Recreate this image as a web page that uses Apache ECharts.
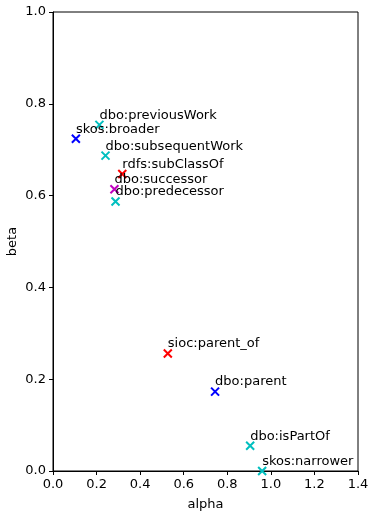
<!DOCTYPE html>
<html><head><meta charset="utf-8">
<script src="https://cdn.jsdelivr.net/npm/echarts@6/dist/echarts.min.js"></script>
<style>html,body{margin:0;padding:0;background:#fff}#c{width:370px;height:512px}</style>
</head><body><div id="c"></div>
<script>
const names = ['skos:broader','dbo:previousWork','dbo:subsequentWork','rdfs:subClassOf','dbo:successor','dbo:predecessor','sioc:parent_of','dbo:parent','dbo:isPartOf','skos:narrower'];
const alphaVals = [0.105,0.213,0.241,0.318,0.282,0.287,0.527,0.744,0.905,0.960];
const betaVals = [0.724,0.754,0.687,0.647,0.614,0.587,0.256,0.173,0.055,0.0];
const colors = ['#0000ff','#00bfbf','#00bfbf','#ff0000','#bf00bf','#00bfbf','#ff0000','#0000ff','#00bfbf','#00bfbf'];
const xTicks = [0,0.2,0.4,0.6,0.8,1.0,1.2,1.4];
const yTicks = [0,0.2,0.4,0.6,0.8,1.0];

const font = 'DejaVu Sans';
const fs = 13;
const chart = echarts.init(document.getElementById('c'));
const data = names.map((n,i)=>({
  name:n, value:[alphaVals[i],betaVals[i]],
  itemStyle:{color:'rgba(0,0,0,0)',borderColor:colors[i],borderWidth:2,opacity:1}
}));
chart.setOption({
  animation:false,
  grid:{left:53,right:12,top:12,bottom:41,show:true,borderColor:'#000',borderWidth:1,outerBoundsMode:'none',containLabel:false},
  xAxis:{type:'value',min:0,max:1.4,interval:0.2,name:'alpha',nameLocation:'middle',nameGap:27,nameMoveOverlap:false,
    nameTextStyle:{fontFamily:font,fontSize:fs,color:'#000'},
    axisLine:{show:true,lineStyle:{color:'#000',width:1}},
    axisTick:{show:true,length:4,lineStyle:{color:'#000'}},
    axisLabel:{fontFamily:font,fontSize:fs,color:'#000',margin:7,formatter:v=>v.toFixed(1)},
    splitLine:{show:false}},
  yAxis:{type:'value',min:0,max:1.0,interval:0.2,name:'beta',nameLocation:'middle',nameGap:34,nameMoveOverlap:false,
    nameTextStyle:{fontFamily:font,fontSize:fs,color:'#000'},
    axisLine:{show:true,lineStyle:{color:'#000',width:1}},
    axisTick:{show:true,length:4,lineStyle:{color:'#000'}},
    axisLabel:{fontFamily:font,fontSize:fs,color:'#000',margin:7,formatter:v=>v.toFixed(1)},
    splitLine:{show:false}},
  series:[{
    type:'scatter',
    symbol:'path://M0,0L10,10M10,0L0,10',
    symbolSize:8,
    clip:true,
    data:data,
    itemStyle:{opacity:1},
    label:{show:true,formatter:p=>p.name,position:[5,2],align:'left',verticalAlign:'bottom',
      fontFamily:font,fontSize:fs,color:'#000'}
  }]
});
</script></body></html>
